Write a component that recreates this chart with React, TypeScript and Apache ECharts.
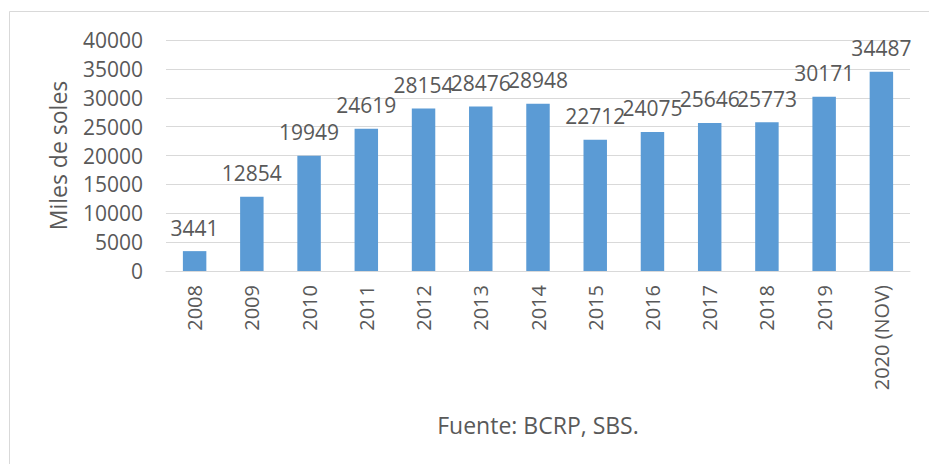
import React, { useEffect, useRef } from "react";
import * as echarts from "echarts";

const categories = ["2008", "2009", "2010", "2011", "2012", "2013", "2014", "2015", "2016", "2017", "2018", "2019", "2020 (NOV)"];
const values = [3441, 12854, 19949, 24619, 28154, 28476, 28948, 22712, 24075, 25646, 25773, 30171, 34487];
const yAxisName = "Miles de soles";
const sourceNote = "Fuente: BCRP, SBS.";

const FONT = "'Open Sans', sans-serif";
const TEXT = "#595959";

export default function App() {
  const ref = useRef<HTMLDivElement>(null);
  useEffect(() => {
    document.body.style.margin = "0";
    const chart = echarts.init(ref.current!, null, { renderer: "svg" });
    chart.setOption({
      animation: false,
      backgroundColor: "#ffffff",
      textStyle: { fontFamily: FONT },
      grid: { left: 166, right: 19, top: 40, bottom: 193, containLabel: false },
      xAxis: {
        type: "category",
        data: categories,
        axisLine: { lineStyle: { color: "#d9d9d9", width: 1 } },
        axisTick: { show: false },
        axisLabel: { rotate: 90, color: TEXT, fontSize: 20, fontFamily: FONT, margin: 14, interval: 0 },
      },
      yAxis: {
        type: "value",
        min: 0,
        max: 40000,
        interval: 5000,
        name: yAxisName,
        nameLocation: "middle",
        nameGap: 97,
        nameTextStyle: { color: TEXT, fontSize: 23, fontFamily: FONT },
        axisLine: { show: false },
        axisTick: { show: false },
        axisLabel: { color: TEXT, fontSize: 21, fontFamily: FONT, margin: 23, formatter: (v: number) => String(v) },
        splitLine: { lineStyle: { color: "#d9d9d9", width: 1 } },
      },
      series: [
        {
          type: "bar",
          data: values,
          barWidth: "41%",
          itemStyle: { color: "#5b9bd5" },
          label: { show: true, position: "top", distance: 13, color: TEXT, fontSize: 21, fontFamily: FONT },
        },
      ],
      graphic: [
        {
          type: "rect",
          shape: { x: 9.5, y: 11.5, width: 940, height: 470 },
          style: { fill: "none", stroke: "#d9d9d9", lineWidth: 1 },
          silent: true,
        },
        {
          type: "text",
          x: 538,
          y: 425,
          style: { text: sourceNote, fill: TEXT, fontSize: 23, fontFamily: FONT, textAlign: "center", textVerticalAlign: "middle" },
        },
      ],
    });
    return () => chart.dispose();
  }, []);
  return <div ref={ref} style={{ position: "fixed", left: 0, top: 0, width: 929, height: 464 }} />;
}
